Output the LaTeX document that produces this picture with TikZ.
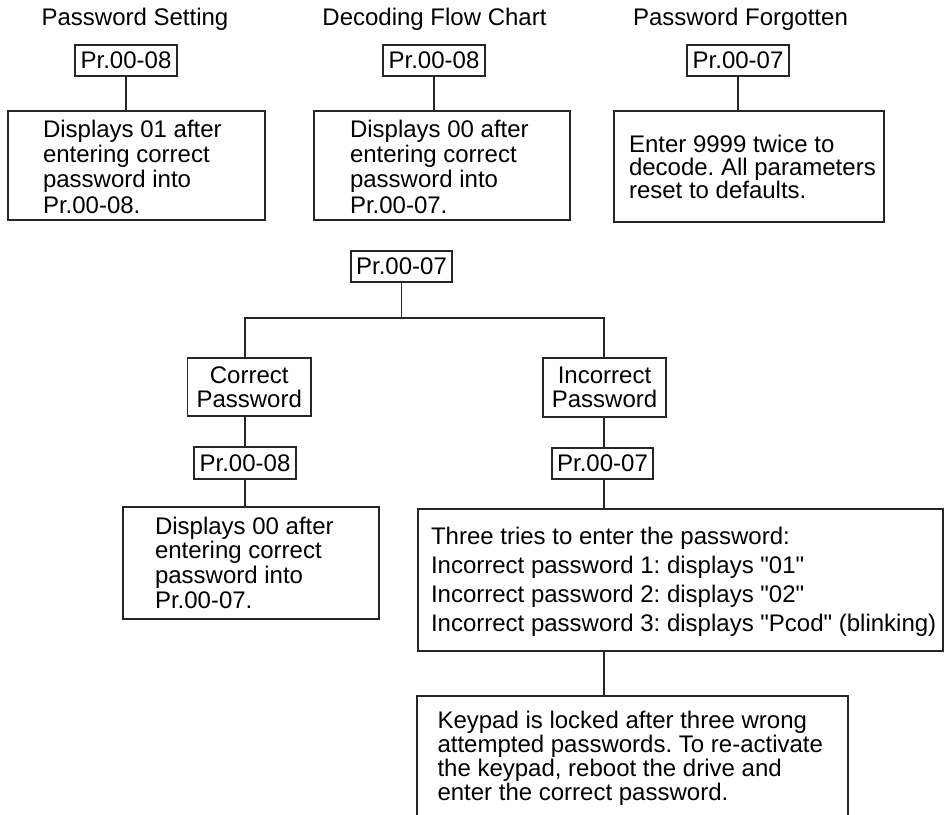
\documentclass[tikz,border=0pt]{standalone}
\usepackage{fontspec}
\setmainfont{Liberation Sans}[Ligatures=TeXOff]
\frenchspacing
\newcommand{\boxlines}[4]{\makebox[0pt][l]{\hspace*{#1pt}\raisebox{#2pt}[0pt][0pt]{\parbox[t]{700pt}{\fontsize{24}{#3}\selectfont\frenchspacing\raggedright #4}}}}
\tikzset{
  box/.style={draw=black!85, line width=1.2pt, inner sep=0pt, align=center,
    font=\fontsize{24}{23.5}\selectfont, text=black},
  conn/.style={draw=black!85, line width=1.2pt},
  ttl/.style={font=\fontsize{24}{24}\selectfont, anchor=base, inner sep=0pt, text=black},
}
\begin{document}
\begin{tikzpicture}[x=1pt, y=-1pt]
\useasboundingbox (0,0) rectangle (944,814);
\clip (0,0) rectangle (944,814);

% titles
\node[ttl] (title1) at (135,25) {Password Setting};
\node[ttl] (title2) at (434.5,25) {Decoding Flow Chart};
\node[ttl] (title3) at (740.5,25) {Password Forgotten};

% top row
\node[box, minimum width=102pt, minimum height=31pt] (t1) at (126,60.5) {Pr.00-08};
\node[box, minimum width=102pt, minimum height=31pt] (t2) at (434,60.5) {Pr.00-08};
\node[box, minimum width=102pt, minimum height=31pt] (t3) at (738,60.5) {Pr.00-07};

\node[box, minimum width=257pt, minimum height=109pt] (b1) at (136.5,165.5)
  {\boxlines{-93.5}{28.5}{25.4}{Displays 01 after\\entering correct\\password into\\Pr.00-08.}};
\node[box, minimum width=256pt, minimum height=109pt] (b2) at (442,165.5)
  {\boxlines{-92}{28.5}{25.4}{Displays 00 after\\entering correct\\password into\\Pr.00-07.}};
\node[box, minimum width=270pt, minimum height=111pt] (b3) at (749,166.5)
  {\boxlines{-120}{14.5}{23}{Enter 9999 twice to\\decode. All parameters\\reset to defaults.}};

\draw[conn] (t1.south) -- (t1.south |- b1.north);
\draw[conn] (t2.south) -- (t2.south |- b2.north);
\draw[conn] (t3.south) -- (t3.south |- b3.north);

% decoding tree
\node[box, minimum width=101pt, minimum height=31pt] (root) at (401.5,266.5) {Pr.00-07};
\node[box, minimum width=123.5pt, minimum height=58pt] (cor) at (249.25,387) {Correct\\Password};
\node[box, minimum width=123pt, minimum height=59pt] (inc) at (604.5,387.5) {Incorrect\\Password};
\node[box, minimum width=102pt, minimum height=32pt] (p8) at (245,463) {Pr.00-08};
\node[box, minimum width=101pt, minimum height=31pt] (p7) at (602.5,463.5) {Pr.00-07};
\node[box, minimum width=256pt, minimum height=112pt] (dis) at (251,563)
  {\boxlines{-96}{29}{24.7}{Displays 00 after\\entering correct\\password into\\Pr.00-07.}};
\node[box, minimum width=525pt, minimum height=142pt] (big) at (680.5,580)
  {\boxlines{-249.5}{36}{29}{Three tries to enter the password:\\Incorrect password 1: displays "01"\\Incorrect password 2: displays "02"\\Incorrect password 3: displays "Pcod" (blinking)}};
\node[box, minimum width=431pt, minimum height=140pt] (lock) at (632.5,766)
  {\boxlines{-195}{38}{24.3}{Keypad is locked after three wrong\\attempted passwords. To re-activate\\the keypad, reboot the drive and\\enter the correct password.}};

\coordinate (jl) at (245,318);
\coordinate (jr) at (604,318);
\draw[conn] (root.south) -- (root.south |- jl);
\draw[conn] (jl |- cor.north) -- (jl) -- (jr) -- (jr |- inc.north);
\draw[conn] (jl |- cor.south) -- (jl |- p8.north);
\draw[conn] (jl |- p8.south) -- (jl |- dis.north);
\draw[conn] (jr |- inc.south) -- (jr |- p7.north);
\draw[conn] (jr |- p7.south) -- (jr |- big.north);
\draw[conn] (jr |- big.south) -- (jr |- lock.north);
\end{tikzpicture}
\end{document}
